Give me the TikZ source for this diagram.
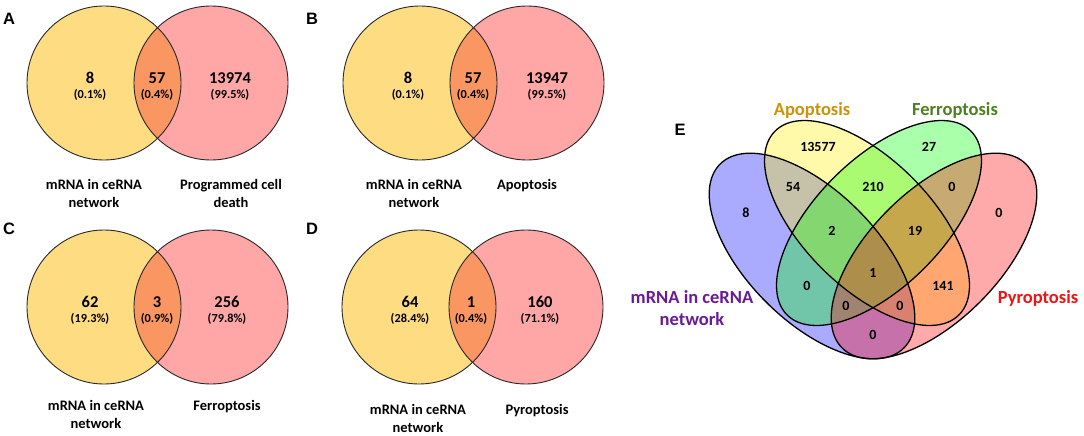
\documentclass[tikz,border=0pt]{standalone}
\usepackage{fontspec}
\setmainfont{Carlito}
\newfontfamily\panelfont{Liberation Sans}
\definecolor{vyel}{RGB}{254,220,130}
\definecolor{vred}{RGB}{255,166,166}
\definecolor{vint}{RGB}{249,150,98}
\definecolor{apoc}{RGB}{204,146,10}
\definecolor{ferc}{RGB}{78,128,32}
\definecolor{mrnac}{RGB}{106,26,150}
\definecolor{pyrc}{RGB}{238,20,20}
\tikzset{
  num/.style={font=\bfseries\fontsize{16.5}{16}\selectfont, inner sep=0pt, anchor=base},
  pct/.style={font=\bfseries\fontsize{12.3}{12}\selectfont, inner sep=0pt, anchor=base},
  lab/.style={font=\bfseries\fontsize{14.5}{15}\selectfont, inner sep=0pt, anchor=base},
  pan/.style={font=\panelfont\bfseries\fontsize{16.5}{16}\selectfont, inner sep=0pt, anchor=base},
  enum/.style={font=\bfseries\fontsize{14}{14}\selectfont, inner sep=0pt, anchor=base},
  elab/.style={font=\bfseries\fontsize{18.5}{19}\selectfont, inner sep=0pt, anchor=base},
  circline/.style={draw={rgb,255:red,40;green,40;blue,40}, line width=0.9pt},
  elline/.style={draw=black, line width=1.3pt},
  efill/.style={fill opacity=0.333},
}
\begin{document}
\begin{tikzpicture}[x=1pt,y=-1pt]
\useasboundingbox (0,0) rectangle (1084,436);
\fill[white] (0,0) rectangle (1084,436);

% ---------- two-set Venns ----------
\foreach \cx/\cy in {104/83, 420/83, 104/307, 419/307}{
  \begin{scope}[shift={(\cx,\cy)}]
    \fill[vyel] (0,0) circle[radius=77pt];
    \fill[vred] (107,0) circle[radius=77pt];
    \begin{scope}
      \clip (0,0) circle[radius=77pt];
      \fill[vint] (107,0) circle[radius=77pt];
    \end{scope}
    \draw[circline] (0,0) circle[radius=77pt];
    \draw[circline] (107,0) circle[radius=77pt];
  \end{scope}
}

% panel letters
\node[pan] (lA) at (9,25) {A};
\node[pan] (lB) at (312,25) {B};
\node[pan] (lC) at (9,234) {C};
\node[pan] (lD) at (312,234) {D};
\node[pan] (lE) at (680,135) {E};

% A
\node[num] (a1) at (90,83) {8};
\node[pct] (a1p) at (90,99) {(0.1\%)};
\node[num] (a2) at (157,83) {57};
\node[pct] (a2p) at (157,99) {(0.4\%)};
\node[num] (a3) at (230,83) {13974};
\node[pct] (a3p) at (230,99) {(99.5\%)};
\node[lab] (aL1) at (94,189) {mRNA in ceRNA};
\node[lab] (aL2) at (94,207) {network};
\node[lab] (aR1) at (231,189) {Programmed cell};
\node[lab] (aR2) at (231,207) {death};

% B
\node[num] (b1) at (408,83) {8};
\node[pct] (b1p) at (408,99) {(0.1\%)};
\node[num] (b2) at (473,83) {57};
\node[pct] (b2p) at (473,99) {(0.4\%)};
\node[num] (b3) at (547,83) {13947};
\node[pct] (b3p) at (547,99) {(99.5\%)};
\node[lab] (bL1) at (414,189) {mRNA in ceRNA};
\node[lab] (bL2) at (414,207) {network};
\node[lab] (bR1) at (527,189) {Apoptosis};

% C
\node[num] (c1) at (90,307) {62};
\node[pct] (c1p) at (90,322) {(19.3\%)};
\node[num] (c2) at (157,307) {3};
\node[pct] (c2p) at (157,322) {(0.9\%)};
\node[num] (c3) at (227,307) {256};
\node[pct] (c3p) at (227,322) {(79.8\%)};
\node[lab] (cL1) at (96,410) {mRNA in ceRNA};
\node[lab] (cL2) at (96,428) {network};
\node[lab] (cR1) at (227,410) {Ferroptosis};

% D
\node[num] (d1) at (410,307) {64};
\node[pct] (d1p) at (410,322) {(28.4\%)};
\node[num] (d2) at (471,307) {1};
\node[pct] (d2p) at (471,322) {(0.4\%)};
\node[num] (d3) at (540,307) {160};
\node[pct] (d3p) at (540,322) {(71.1\%)};
\node[lab] (dL1) at (418,414) {mRNA in ceRNA};
\node[lab] (dL2) at (418,432) {network};
\node[lab] (dR1) at (537,414) {Pyroptosis};

% ---------- four-set Venn (E) ----------
\begin{scope}[shift={(812,256)}, rotate=-45]
  \fill[blue, efill] (0,0) ellipse[x radius=130pt, y radius=65pt];
\end{scope}
\begin{scope}[shift={(867,223)}, rotate=-45]
  \fill[yellow, efill] (0,0) ellipse[x radius=130pt, y radius=64pt];
\end{scope}
\begin{scope}[shift={(879,223)}, rotate=45]
  \fill[green, efill] (0,0) ellipse[x radius=130pt, y radius=64pt];
\end{scope}
\begin{scope}[shift={(934,256)}, rotate=45]
  \fill[red, efill] (0,0) ellipse[x radius=130pt, y radius=65pt];
\end{scope}
\begin{scope}[shift={(812,256)}, rotate=-45]
  \draw[elline] (0,0) ellipse[x radius=130pt, y radius=65pt];
\end{scope}
\begin{scope}[shift={(867,223)}, rotate=-45]
  \draw[elline] (0,0) ellipse[x radius=130pt, y radius=64pt];
\end{scope}
\begin{scope}[shift={(879,223)}, rotate=45]
  \draw[elline] (0,0) ellipse[x radius=130pt, y radius=64pt];
\end{scope}
\begin{scope}[shift={(934,256)}, rotate=45]
  \draw[elline] (0,0) ellipse[x radius=130pt, y radius=65pt];
\end{scope}

\node[elab, text=apoc] (eApo) at (812,115) {Apoptosis};
\node[elab, text=ferc] (eFer) at (955,115) {Ferroptosis};
\node[elab, text=mrnac] (eM1) at (692,303) {mRNA in ceRNA};
\node[elab, text=mrnac] (eM2) at (692,325) {network};
\node[elab, text=pyrc] (ePyr) at (1038,303) {Pyroptosis};

\node[enum] (n13577) at (818,151.5) {13577};
\node[enum] (n27) at (929,151.5) {27};
\node[enum] (n54) at (793,191.5) {54};
\node[enum] (n210) at (873,191.5) {210};
\node[enum] (nGR) at (952,191.5) {0};
\node[enum] (n8) at (746,217.5) {8};
\node[enum] (nR) at (999,217.5) {0};
\node[enum] (n2) at (832,235.5) {2};
\node[enum] (n19) at (915,235.5) {19};
\node[enum] (n1) at (873,277.5) {1};
\node[enum] (nBG) at (807,290.5) {0};
\node[enum] (n141) at (943,290.5) {141};
\node[enum] (nBGR) at (846,310.5) {0};
\node[enum] (nBYR) at (900,310.5) {0};
\node[enum] (nBR) at (873,339.5) {0};
\end{tikzpicture}
\end{document}
